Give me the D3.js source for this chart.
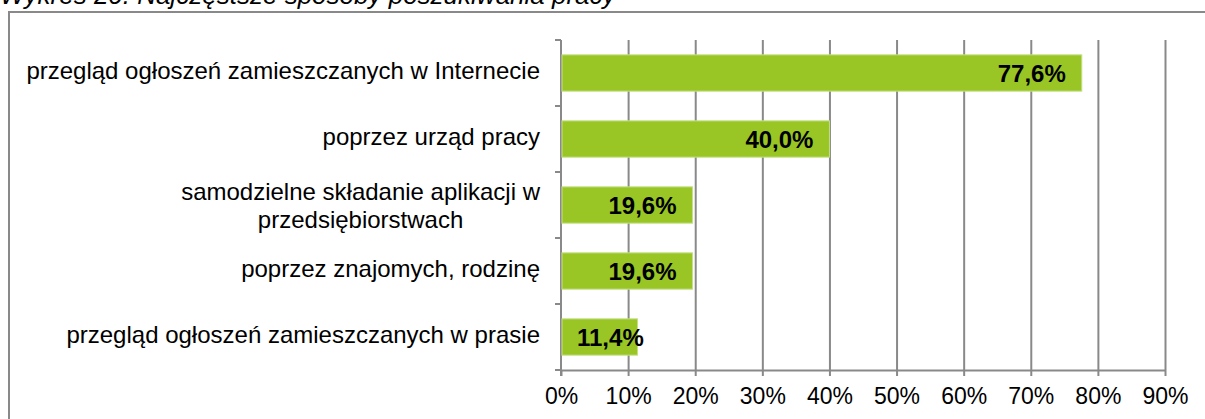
<!DOCTYPE html>
<html>
<meta charset="utf-8">
<style>
body { margin: 0; background: #fff; }
text { font-family: "Liberation Sans", Arial, sans-serif; fill: #000; }
.title { font-style: italic; font-size: 26px; }
.cat { font-size: 24px; }
.tick text { font-size: 23px; }
.val { font-size: 24px; font-weight: bold; }
</style>
<head>
<script src="https://d3js.org/d3.v7.min.js"></script>
</head>
<body>
<script>
var title = "Wykres 20. Najczęstsze sposoby poszukiwania pracy";

// categories top to bottom, lines for wrapped labels
var categories = [
  ["przegląd ogłoszeń zamieszczanych w Internecie"],
  ["poprzez urząd pracy"],
  ["samodzielne składanie aplikacji w", "przedsiębiorstwach"],
  ["poprzez znajomych, rodzinę"],
  ["przegląd ogłoszeń zamieszczanych w prasie"]
];
var values = [77.6, 40.0, 19.6, 19.6, 11.4];
var xTicks = [0, 10, 20, 30, 40, 50, 60, 70, 80, 90];

var W = 1205, H = 419;
var plotLeft = 561, plotRight = 1165, plotTop = 40, plotBottom = 370;
var grey = "#898989";

var svg = d3.select("body").append("svg")
    .attr("width", W)
    .attr("height", H);

// frame (runs off the picture on right and bottom)
svg.append("rect")
    .attr("x", 9).attr("y", 12)
    .attr("width", W + 10).attr("height", H + 10)
    .attr("fill", "none")
    .attr("stroke", grey)
    .attr("stroke-width", 2);

svg.append("text")
    .attr("class", "title")
    .attr("x", 0).attr("y", 4)
    .text(title);

var x = d3.scaleLinear().domain([0, 90]).range([plotLeft, plotRight]);
var y = d3.scaleBand()
    .domain(d3.range(categories.length))
    .range([plotTop, plotBottom])
    .paddingInner(0.45)
    .paddingOuter(0.225);

// gridlines
svg.append("g")
    .attr("transform", "translate(0," + plotBottom + ")")
    .call(d3.axisBottom(x).tickValues(xTicks.slice(1)).tickSize(-(plotBottom - plotTop)).tickFormat(""))
    .call(function(g) {
      g.select(".domain").remove();
      g.selectAll("line").attr("stroke", grey).attr("stroke-width", 2);
    });

// x axis
svg.append("g")
    .attr("transform", "translate(0," + plotBottom + ")")
    .call(d3.axisBottom(x).tickValues(xTicks).tickSizeInner(6).tickSizeOuter(0).tickPadding(12)
      .tickFormat(function(d) { return d + "%"; }))
    .call(function(g) {
      g.select(".domain").attr("stroke", grey).attr("stroke-width", 2);
      g.selectAll("line").attr("stroke", grey).attr("stroke-width", 2);
      g.selectAll("text").attr("fill", "#000").attr("font-family", null).attr("font-size", null);
    });

// y axis line + ticks at band boundaries
var yAx = svg.append("g");
yAx.append("line")
    .attr("x1", x(0)).attr("x2", x(0))
    .attr("y1", plotTop).attr("y2", plotBottom + 6)
    .attr("stroke", grey).attr("stroke-width", 2);
yAx.selectAll("line.tk")
    .data(d3.range(categories.length + 1))
    .enter().append("line")
    .attr("class", "tk")
    .attr("x1", x(0) - 6).attr("x2", x(0))
    .attr("y1", function(i) { return plotTop + i * y.step(); })
    .attr("y2", function(i) { return plotTop + i * y.step(); })
    .attr("stroke", grey).attr("stroke-width", 2);

// bars
svg.selectAll("rect.bar")
    .data(values)
    .enter().append("rect")
    .attr("class", "bar")
    .attr("x", x(0) + 1)
    .attr("y", function(d, i) { return y(i); })
    .attr("width", function(d) { return x(d) - x(0) - 1; })
    .attr("height", y.bandwidth())
    .attr("fill", "#99c625")
    .attr("stroke", "#c4df86")
    .attr("stroke-width", 1);

// value labels, inside end (pushed right if bar is too short)
svg.selectAll("text.val")
    .data(values)
    .enter().append("text")
    .attr("class", "val")
    .attr("text-anchor", "end")
    .attr("y", function(d, i) { return y(i) + y.bandwidth() / 2 + 9; })
    .text(function(d) { return d.toFixed(1).replace(".", ",") + "%"; })
    .attr("x", function(d) {
      var w = this.getComputedTextLength();
      return Math.max(x(d) - 16, x(0) + 16 + w);
    });

// category labels, lines centred inside a right-aligned block
var lh = 28;
var cat = svg.selectAll("g.cat")
    .data(categories)
    .enter().append("g")
    .attr("class", "cat");
cat.each(function(lines, i) {
  var g = d3.select(this);
  var cy = y(i) + y.bandwidth() / 2;
  var n = lines.length;
  var t = g.selectAll("text").data(lines).enter().append("text")
      .attr("class", "cat")
      .attr("text-anchor", "middle")
      .attr("y", function(d, k) { return cy + 6 + (k - (n - 1) / 2) * lh + (n - 1) * 3; })
      .text(function(d) { return d; });
  var wmax = d3.max(t.nodes(), function(nd) { return nd.getComputedTextLength(); });
  t.attr("x", x(0) - 21 - wmax / 2);
});
</script>
</body>
</html>
